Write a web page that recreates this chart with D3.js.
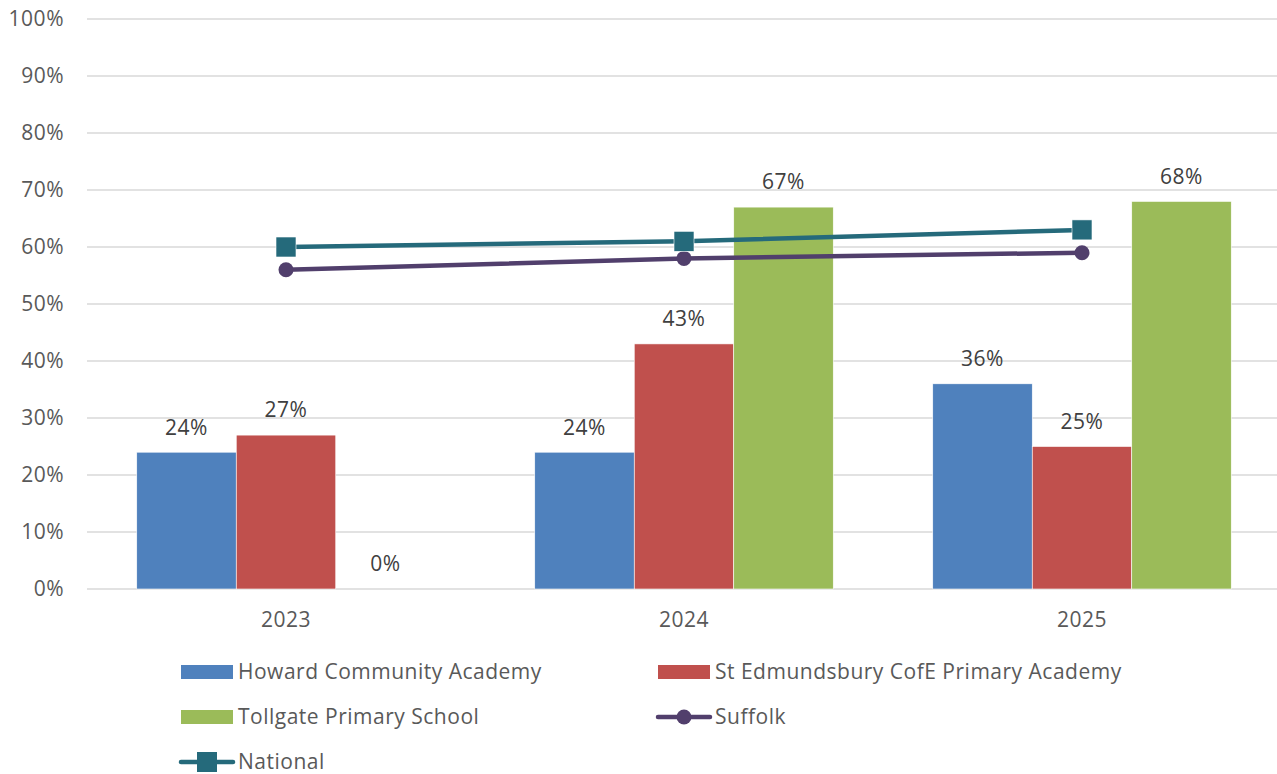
<!DOCTYPE html>
<html>
<head>
<meta charset="utf-8">
<script src="https://cdn.jsdelivr.net/npm/d3@7"></script>
<style>
  body { margin: 0; background: #fff; }
  svg text { font-family: "Open Sans", "Liberation Sans", sans-serif; letter-spacing: 0.5px; }
</style>
</head>
<body>
<svg id="chart" width="1277" height="774"></svg>
<script>
const years = ["2023", "2024", "2025"];
const barSeries = ["Howard Community Academy", "St Edmundsbury CofE Primary Academy", "Tollgate Primary School"];
const howard = [24, 24, 36];
const stEdmundsbury = [27, 43, 25];
const tollgate = [0, 67, 68];
const suffolk = [56, 58, 59];
const national = [60, 61, 63];
const yTicks = [0, 10, 20, 30, 40, 50, 60, 70, 80, 90, 100];

const barColors = ["#4F81BD", "#C0504D", "#9BBB59"];
const suffolkColor = "#513F6C";
const nationalColor = "#256A7B";
const fontSize = 21;

const svg = d3.select("#chart");
const plotLeft = 87, plotRight = 1281, plotTop = 19, plotBottom = 589;

const x = d3.scaleBand().domain(years).range([plotLeft, plotRight]).padding(0);
const xInner = d3.scaleBand().domain(barSeries)
    .range([0, x.bandwidth() * 0.75]);
const y = d3.scaleLinear().domain([0, 100]).range([plotBottom, plotTop]);

// gridlines
svg.append("g").selectAll("line")
    .data(yTicks)
    .join("line")
    .attr("x1", plotLeft).attr("x2", 1277)
    .attr("y1", d => y(d)).attr("y2", d => y(d))
    .attr("stroke", "#D9D9D9").attr("stroke-width", 1.5);

// y labels
svg.append("g").selectAll("text")
    .data(yTicks)
    .join("text")
    .attr("x", 64).attr("y", d => y(d))
    .attr("dy", "0.35em")
    .attr("text-anchor", "end")
    .attr("font-size", fontSize)
    .attr("fill", "#595959")
    .text(d => d + "%");

// x labels
svg.append("g").selectAll("text")
    .data(years)
    .join("text")
    .attr("x", d => x(d) + x.bandwidth() / 2)
    .attr("y", 620)
    .attr("dy", "0.35em")
    .attr("text-anchor", "middle")
    .attr("font-size", fontSize)
    .attr("fill", "#595959")
    .text(d => d);

// bars
const barData = [howard, stEdmundsbury, tollgate];
const groupOffset = x.bandwidth() * 0.125;
const bars = [];
years.forEach((yr, i) => {
    barSeries.forEach((s, j) => {
        bars.push({ year: yr, series: s, value: barData[j][i], color: barColors[j] });
    });
});

svg.append("g").selectAll("rect")
    .data(bars)
    .join("rect")
    .attr("x", d => x(d.year) + groupOffset + xInner(d.series))
    .attr("width", xInner.bandwidth())
    .attr("y", d => y(d.value))
    .attr("height", d => y(0) - y(d.value))
    .attr("fill", d => d.color)
    .attr("stroke", "#fff").attr("stroke-width", 0.6);

svg.append("g").selectAll("text")
    .data(bars)
    .join("text")
    .attr("x", d => x(d.year) + groupOffset + xInner(d.series) + xInner.bandwidth() / 2)
    .attr("y", d => y(d.value) - 25)
    .attr("dy", "0.35em")
    .attr("text-anchor", "middle")
    .attr("font-size", fontSize)
    .attr("fill", "#404040")
    .text(d => d.value + "%");

// lines
const line = d3.line()
    .x((d, i) => x(years[i]) + x.bandwidth() / 2)
    .y(d => y(d));

svg.append("path")
    .datum(suffolk)
    .attr("d", line)
    .attr("fill", "none")
    .attr("stroke", suffolkColor).attr("stroke-width", 4.5);
svg.append("g").selectAll("circle")
    .data(suffolk)
    .join("circle")
    .attr("cx", (d, i) => x(years[i]) + x.bandwidth() / 2)
    .attr("cy", d => y(d))
    .attr("r", 7.5)
    .attr("fill", suffolkColor);

svg.append("path")
    .datum(national)
    .attr("d", line)
    .attr("fill", "none")
    .attr("stroke", nationalColor).attr("stroke-width", 4.5);
svg.append("g").selectAll("rect")
    .data(national)
    .join("rect")
    .attr("x", (d, i) => x(years[i]) + x.bandwidth() / 2 - 10)
    .attr("y", d => y(d) - 10)
    .attr("width", 20).attr("height", 20)
    .attr("fill", nationalColor)
    .attr("stroke", "#fff").attr("stroke-width", 0.6);

// legend
const legendItems = [
    { name: barSeries[0], type: "bar", color: barColors[0], lx: 181, ly: 672 },
    { name: barSeries[1], type: "bar", color: barColors[1], lx: 658, ly: 672 },
    { name: barSeries[2], type: "bar", color: barColors[2], lx: 181, ly: 717 },
    { name: "Suffolk", type: "circle", color: suffolkColor, lx: 658, ly: 717 },
    { name: "National", type: "square", color: nationalColor, lx: 181, ly: 762 }
];

const lg = svg.append("g").selectAll("g")
    .data(legendItems)
    .join("g")
    .attr("transform", d => `translate(${d.lx},${d.ly})`);

lg.filter(d => d.type === "bar").append("rect")
    .attr("x", 0).attr("y", -7)
    .attr("width", 52).attr("height", 14)
    .attr("fill", d => d.color);

lg.filter(d => d.type !== "bar").append("line")
    .attr("x1", 0).attr("x2", 52)
    .attr("y1", 0).attr("y2", 0)
    .attr("stroke", d => d.color).attr("stroke-width", 4.5)
    .attr("stroke-linecap", "round");

lg.filter(d => d.type === "circle").append("circle")
    .attr("cx", 26).attr("cy", 0).attr("r", 7.5)
    .attr("fill", d => d.color);

lg.filter(d => d.type === "square").append("rect")
    .attr("x", 16).attr("y", -10)
    .attr("width", 20).attr("height", 20)
    .attr("fill", d => d.color);

lg.append("text")
    .attr("x", 57).attr("y", 0)
    .attr("dy", "0.35em")
    .attr("font-size", fontSize)
    .attr("fill", "#595959")
    .text(d => d.name);
</script>
</body>
</html>
